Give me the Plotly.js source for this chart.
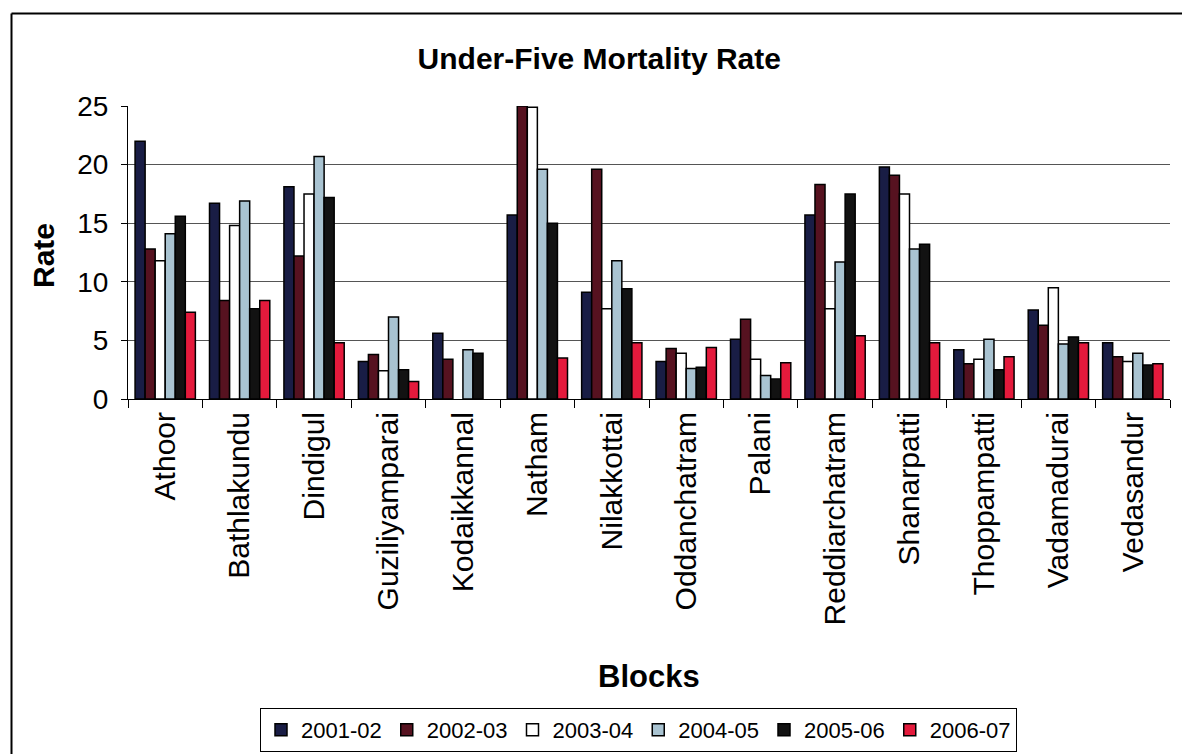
<!DOCTYPE html>
<html>
<head>
<meta charset="utf-8">
<script src="https://cdn.plot.ly/plotly-3.0.1.min.js"></script>
<style>html,body{margin:0;padding:0;background:#fff;}#chart{width:1182px;height:754px;}</style>
</head>
<body>
<div id="chart"></div>
<script>
const blocks = ["Athoor","Bathlakundu","Dindigul","Guziliyamparai","Kodaikkannal","Natham","Nilakkottai","Oddanchatram","Palani","Reddiarchatram","Shanarpatti","Thoppampatti","Vadamadurai","Vedasandur"];
const seriesNames = ["2001-02","2002-03","2003-04","2004-05","2005-06","2006-07"];
const y2001_02 = [22.0,16.7,18.1,3.2,5.6,15.7,9.1,3.2,5.1,15.7,19.8,4.2,7.6,4.8];
const y2002_03 = [12.8,8.4,12.2,3.8,3.4,25.0,19.6,4.3,6.8,18.3,19.1,3.0,6.3,3.6];
const y2003_04 = [11.8,14.8,17.5,2.4,null,24.9,7.7,3.9,3.4,7.7,17.5,3.4,9.5,3.2];
const y2004_05 = [14.1,16.9,20.7,7.0,4.2,19.6,11.8,2.6,2.0,11.7,12.8,5.1,4.7,3.9];
const y2005_06 = [15.6,7.7,17.2,2.5,3.9,15.0,9.4,2.7,1.7,17.5,13.2,2.5,5.3,2.9];
const y2006_07 = [7.4,8.4,4.8,1.5,null,3.5,4.8,4.4,3.1,5.4,4.8,3.6,4.8,3.0];
const allSeries = [y2001_02,y2002_03,y2003_04,y2004_05,y2005_06,y2006_07];
const colors = ["#191d45","#561220","#ffffff","#a9c3d1","#121212","#e41a3c"];

const FONT = "Liberation Sans, Arial, sans-serif";
const traces = allSeries.map((vals,i)=>({
  type:"bar", name:seriesNames[i], x:blocks, y:vals,
  marker:{color:colors[i], line:{color:"#000", width:1.5}},
  hoverinfo:"x+y+name"
}));

const L=128, R=12, T=106, B=355;
const W=1182-L-R, H=754-T-B;
const px = v => (v-L)/W;
const py = v => (754-B-v)/H;

const layout = {
  width:1182, height:754,
  margin:{l:L, r:R, t:T, b:B, pad:0, autoexpand:false},
  paper_bgcolor:"#fff", plot_bgcolor:"#fff",
  font:{family:FONT, color:"#000"},
  barmode:"group", bargap:0.19, bargroupgap:0,
  title:{text:"Under-Five Mortality Rate", x:0.507, xanchor:"center", y:1-58/754, yanchor:"middle",
    font:{family:FONT, size:30, weight:"bold", color:"#000"}},
  xaxis:{type:"category", range:[-0.5,13.5], tickangle:-90, tickson:"boundaries",
    ticks:"outside", ticklen:8, tickcolor:"#000", showline:true, linecolor:"#000", linewidth:1,
    showgrid:false, tickfont:{family:FONT, size:30, color:"#000"}, automargin:false},
  yaxis:{range:[0,25], dtick:5, ticks:"outside", ticklen:6, tickcolor:"#000",
    showline:true, linecolor:"#000", linewidth:1, showgrid:true, gridcolor:"#555", gridwidth:1,
    zeroline:false, ticklabelstandoff:7, tickfont:{family:FONT, size:28, color:"#000"}, automargin:false},
  showlegend:true,
  legend:{orientation:"h", xref:"container", x:638.5/1182, xanchor:"center",
    yref:"container", y:1-730/754, yanchor:"middle",
    bordercolor:"#000", borderwidth:1, font:{family:FONT, size:22, color:"#000"},
    itemwidth:30, traceorder:"normal"},
  annotations:[
    {text:"Rate", xref:"paper", yref:"paper", x:px(43), y:py(256), textangle:-90,
      showarrow:false, xanchor:"center", yanchor:"middle", font:{family:FONT, size:30, weight:"bold", color:"#000"}},
    {text:"Blocks", xref:"paper", yref:"paper", x:px(649), y:py(676),
      showarrow:false, xanchor:"center", yanchor:"middle", font:{family:FONT, size:31, weight:"bold", color:"#000"}}
  ],
  shapes:[
    {type:"line", xref:"paper", yref:"paper", x0:px(11.5), x1:px(11.5), y0:py(13.5), y1:py(760), line:{color:"#000", width:2}},
    {type:"line", xref:"paper", yref:"paper", x0:px(11.5), x1:px(1190), y0:py(13.5), y1:py(13.5), line:{color:"#000", width:2}}
  ]
};
Plotly.newPlot("chart", traces, layout, {staticPlot:true});
</script>
</body>
</html>
